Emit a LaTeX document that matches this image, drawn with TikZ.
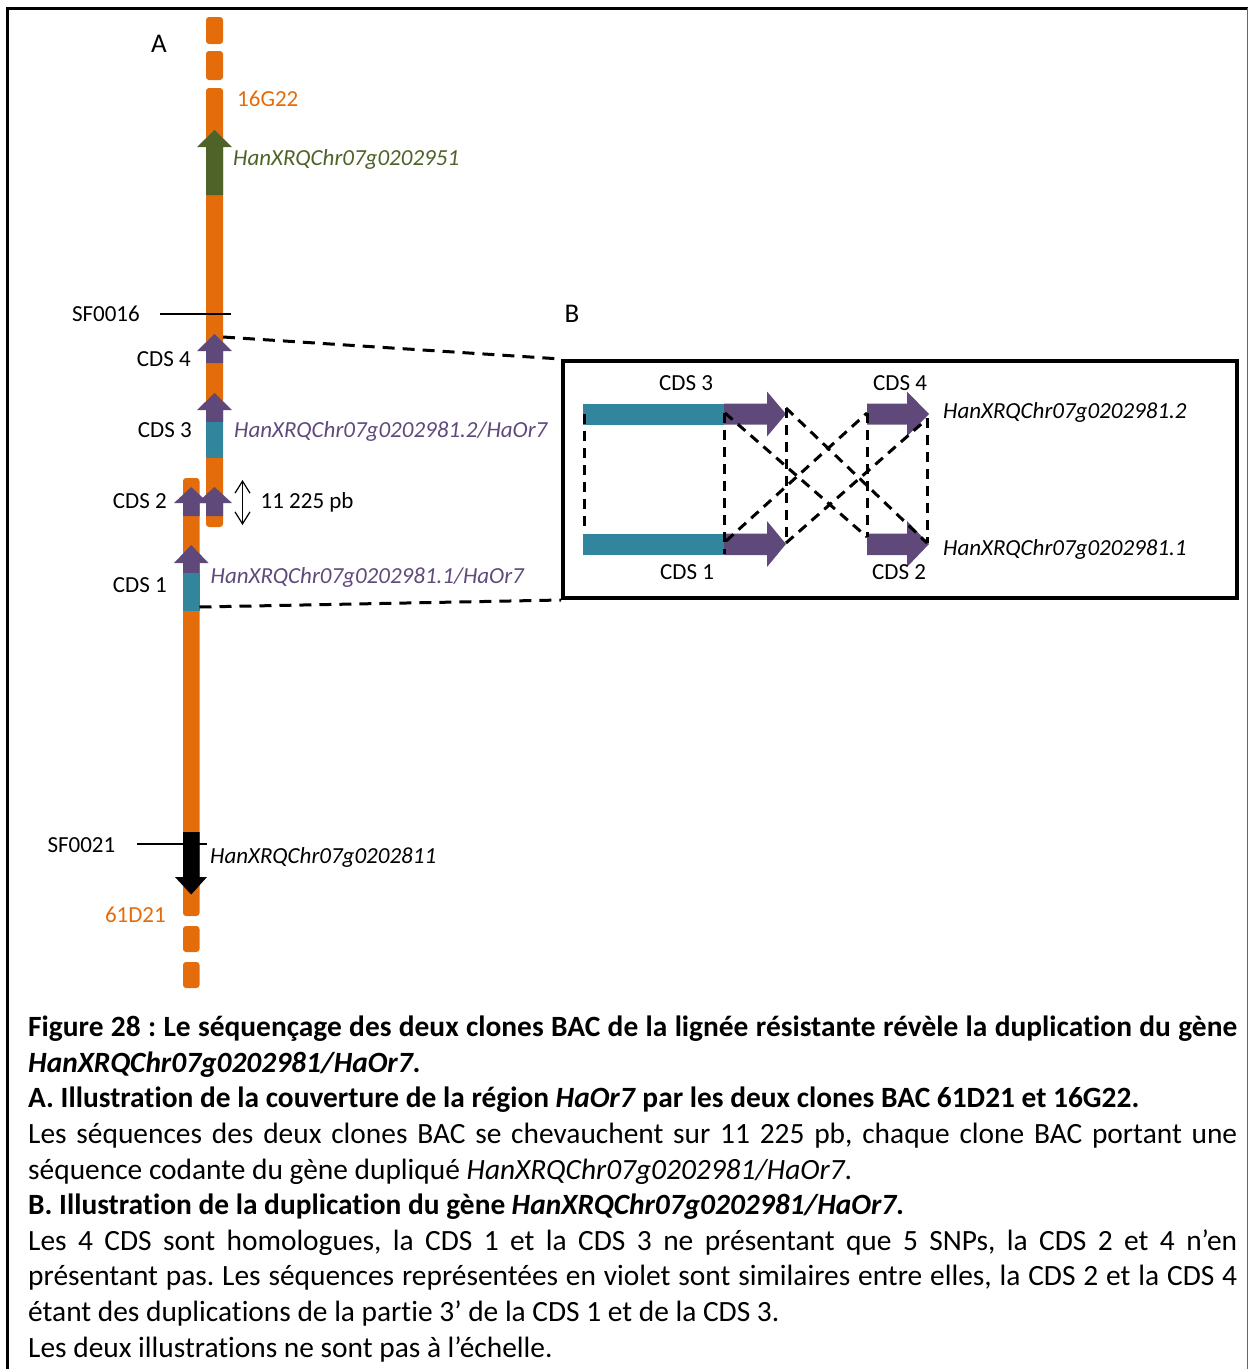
\documentclass[tikz,border=0pt]{standalone}
\usepackage{fontspec}
\setmainfont{Carlito}[Ligatures={NoCommon}]
\usetikzlibrary{arrows.meta}
\definecolor{borange}{HTML}{E46C0A}
\definecolor{bgreen}{HTML}{4F6228}
\definecolor{bpurple}{HTML}{5F497A}
\definecolor{bteal}{HTML}{31859C}
\definecolor{lpurple}{HTML}{604A7B}
\tikzset{
  lbl/.style={font=\fontsize{23}{27}\selectfont, inner sep=0pt},
  panellbl/.style={font=\fontsize{27}{32}\selectfont, inner sep=0pt},
  genelbl/.style={font=\fontsize{23}{27}\selectfont\itshape, inner sep=0pt},
  barseg/.style={fill=borange, rounded corners=3pt},
  conndash/.style={line width=3pt, dash pattern=on 12pt off 8pt},
  boxdash/.style={line width=3pt, dash pattern=on 10pt off 7pt},
  sfline/.style={line width=1.4pt},
}
\frenchspacing
\begin{document}
\begin{tikzpicture}[x=1pt,y=-1pt]
\useasboundingbox (0,0) rectangle (1249,1369);
% outer frame
\draw[line width=3pt] (7,1369) -- (7,8) -- (1248,8);
\draw[line width=1.5pt, black!60] (1247.5,8) -- (1247.5,1369);

% ---------- upper BAC 16G22 ----------
\fill[barseg] (206,17) rectangle (223,44);
\fill[barseg] (206,51) rectangle (223,80);
\fill[barseg] (206,88) rectangle (223,527);
% green gene arrow
\fill[bgreen] (214.5,130) -- (232,147) -- (223,147) -- (223,195) -- (206,195) -- (206,147) -- (197,147) -- cycle;
% CDS 4
\fill[bpurple] (214.5,334) -- (232,351) -- (223,351) -- (223,363) -- (206,363) -- (206,351) -- (197,351) -- cycle;
% CDS 3
\fill[bpurple] (214.5,393) -- (232,410) -- (223,410) -- (223,422) -- (206,422) -- (206,410) -- (197,410) -- cycle;
\fill[bteal] (206,422) rectangle (223,458);

% ---------- lower BAC 61D21 ----------
\fill[barseg] (183,478) rectangle (199.5,916);
\fill[barseg] (183,926) rectangle (199.5,952);
\fill[barseg] (183,962) rectangle (199.5,988);
% CDS 2 (both clones)
\fill[bpurple] (191.2,487) -- (208.5,503) -- (199.5,503) -- (199.5,516) -- (183,516) -- (183,503) -- (174,503) -- cycle;
\fill[bpurple] (214.5,487) -- (232,503) -- (223,503) -- (223,516) -- (206,516) -- (206,503) -- (197,503) -- cycle;
% CDS 1
\fill[bpurple] (191.2,545) -- (208.5,563) -- (199.5,563) -- (199.5,573) -- (183,573) -- (183,563) -- (174,563) -- cycle;
\fill[bteal] (183,573) rectangle (199.5,611);
% black gene arrow
\fill[black] (183,832) -- (199.5,832) -- (199.5,877) -- (207,877) -- (191.2,894.5) -- (175,877) -- (183,877) -- cycle;

% markers
\coordinate (sf16a) at (160,314);
\coordinate (sf16b) at (231,314);
\draw[sfline] (sf16a) -- (sf16b);
\coordinate (sf21a) at (137,844);
\coordinate (sf21b) at (207,844);
\draw[sfline] (sf21a) -- (sf21b);

% overlap arrow
\coordinate (ovt) at (242.5,480);
\coordinate (ovb) at (242.5,525);
\draw[line width=1.2pt, {Straight Barb[length=12pt,width=15pt]}-{Straight Barb[length=12pt,width=15pt]}] (ovt) -- (ovb);

% labels panel A
\node[panellbl, anchor=base] (labA) at (159,52) {A};
\node[lbl, anchor=base west, text=borange] (l16) at (237,106) {16G22};
\node[genelbl, anchor=base west, text=bgreen] (g951) at (233,165) {HanXRQChr07g0202951};
\node[lbl, anchor=base east] (lsf16) at (140,321) {SF0016};
\node[lbl, anchor=base east] (lc4) at (191,366) {CDS 4};
\node[lbl, anchor=base east] (lc3) at (192,437) {CDS 3};
\node[genelbl, anchor=base west, text=lpurple] (g2) at (234,437) {HanXRQChr07g0202981.2/HaOr7};
\node[lbl, anchor=base east] (lc2) at (167,508) {CDS 2};
\node[lbl, anchor=base west] (lpb) at (260.5,508) {11 225 pb};
\node[lbl, anchor=base east] (lc1) at (167,592) {CDS 1};
\node[genelbl, anchor=base west, text=lpurple] (g1) at (210.5,583) {HanXRQChr07g0202981.1/HaOr7};
\node[lbl, anchor=base east] (lsf21) at (115.5,852) {SF0021};
\node[genelbl, anchor=base west] (g811) at (210,863) {HanXRQChr07g0202811};
\node[lbl, anchor=base east, text=borange] (l61) at (166,922) {61D21};

% ---------- panel B ----------
\node[panellbl, anchor=base] (labB) at (572,322) {B};
\node[draw, line width=4pt, minimum width=674pt, minimum height=237pt, inner sep=0pt, anchor=north west] (boxB) at (561,359) {};

% zoom connectors
\coordinate (zt) at (223,337);
\coordinate (zb) at (199.5,607);
\draw[conndash] (zt) -- (boxB.north west);
\draw[conndash] (zb) -- (boxB.south west);

% CDS blocks in box
\fill[bteal] (583,403.5) rectangle (724,424.5);
\fill[bpurple] (724,403.5) -- (767,403.5) -- (767,391.5) -- (786,414) -- (767,436.5) -- (767,424.5) -- (724,424.5) -- cycle;
\fill[bpurple] (867,403.5) -- (907,403.5) -- (907,391.5) -- (929,414) -- (907,436.5) -- (907,424.5) -- (867,424.5) -- cycle;
\fill[bteal] (583,533.5) rectangle (724,555);
\fill[bpurple] (724,533.5) -- (767,533.5) -- (767,521) -- (786,544) -- (767,567) -- (767,555) -- (724,555) -- cycle;
\fill[bpurple] (867,533.5) -- (907,533.5) -- (907,521) -- (929,544) -- (907,567) -- (907,555) -- (867,555) -- cycle;

% dashed correspondences
\coordinate (a1) at (584,414);   \coordinate (b1) at (584,533);
\coordinate (a2) at (724,413);   \coordinate (b2) at (724,554);
\coordinate (a3) at (786,408);   \coordinate (b3) at (786,541);
\coordinate (a4) at (867,413);   \coordinate (b4) at (867,537);
\coordinate (a5) at (927,418);   \coordinate (b5) at (927,543);
\draw[boxdash] (a1) -- (b1);
\draw[boxdash] (a2) -- (b2);
\draw[boxdash] (a3) -- (b3);
\draw[boxdash] (a4) -- (b4);
\draw[boxdash] (a5) -- (b5);
\draw[boxdash] (725,413) -- (b4);
\draw[boxdash] (a3) -- (b5);
\draw[boxdash] (726,541) -- (a4);
\draw[boxdash] (786,543) -- (927,419);

\node[lbl, anchor=base west] (bc3) at (659,390) {CDS 3};
\node[lbl, anchor=base west] (bc4) at (873,390) {CDS 4};
\node[lbl, anchor=base west] (bc1) at (660,579) {CDS 1};
\node[lbl, anchor=base west] (bc2) at (872,579) {CDS 2};
\node[genelbl, anchor=base west] (bg2) at (943,418) {HanXRQChr07g0202981.2};
\node[genelbl, anchor=base west] (bg1) at (943,555) {HanXRQChr07g0202981.1};

% ---------- caption ----------
\node[anchor=north west, inner sep=0pt, text width=1209pt, align=justify,
      font=\fontsize{29.4}{35.6}\selectfont] (caption) at (28,1011.5) {%
\strut\textbf{Figure 28 : Le séquençage des deux clones BAC de la lignée résistante révèle la duplication du gène\linebreak
\textit{HanXRQChr07g0202981/HaOr7}.}\par
\textbf{A. Illustration de la couverture de la région \textit{HaOr7} par les deux clones BAC 61D21 et 16G22.}\par
Les séquences des deux clones BAC se chevauchent sur 11~225~pb, chaque clone BAC portant une\linebreak
séquence codante du gène dupliqué \textit{HanXRQChr07g0202981/HaOr7}.\par
\textbf{B. Illustration de la duplication du gène \textit{HanXRQChr07g0202981/HaOr7}.}\par
Les 4 CDS sont homologues, la CDS 1 et la CDS 3 ne présentant que 5 SNPs, la CDS 2 et 4 n’en\linebreak
présentant pas. Les séquences représentées en violet sont similaires entre elles, la CDS 2 et la CDS 4\linebreak
étant des duplications de la partie 3’ de la CDS 1 et de la CDS 3.\par
Les deux illustrations ne sont pas à l’échelle.};
\end{tikzpicture}
\end{document}
